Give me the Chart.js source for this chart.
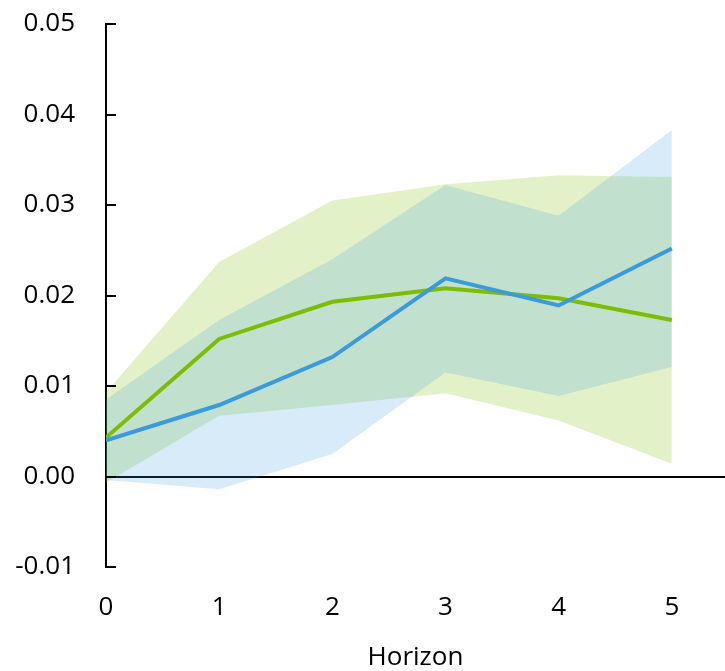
<!DOCTYPE html>
<html>
<head>
<meta charset="utf-8">
<style>
  html, body { margin: 0; padding: 0; background: #ffffff; }
  #wrap { width: 725px; height: 671px; }
</style>
<script src="https://cdn.jsdelivr.net/npm/chart.js@4/dist/chart.umd.min.js"></script>
</head>
<body>
<div id="wrap"><canvas id="irf" width="725" height="671"></canvas></div>
<script>
// Forecast horizons
const horizon = [0, 1, 2, 3, 4, 5];

// Green response: point estimate and confidence band
const greenMid   = [0.0043, 0.0152, 0.0193, 0.0208, 0.0197, 0.0173];
const greenUpper = [0.0093, 0.0237, 0.0305, 0.0323, 0.0333, 0.0331];
const greenLower = [-0.0007, 0.0067, 0.0079, 0.0092, 0.0062, 0.0014];

// Blue response: point estimate and confidence band
const blueMid   = [0.0040, 0.0079, 0.0132, 0.0219, 0.0189, 0.0252];
const blueUpper = [0.0085, 0.0173, 0.0240, 0.0322, 0.0288, 0.0383];
const blueLower = [-0.0004, -0.0014, 0.0025, 0.0115, 0.0089, 0.0121];

// Y axis tick values
const yTicks = [-0.01, 0.00, 0.01, 0.02, 0.03, 0.04, 0.05];

const GREEN = 'rgb(125, 189, 0)';
const BLUE = 'rgb(58, 155, 220)';
const GREEN_BAND = 'rgba(125, 189, 0, 0.21)';
const BLUE_BAND = 'rgba(58, 155, 220, 0.20)';

const pts = arr => horizon.map((h, i) => ({ x: h, y: arr[i] }));

const FONT = { family: "'Open Sans', sans-serif", size: 26 };

// Short tick marks pointing into the plot from the vertical axis
const innerTicks = {
  id: 'innerTicks',
  afterDatasetsDraw(chart) {
    const y = chart.scales.y;
    const ctx = chart.ctx;
    const x0 = chart.chartArea.left;
    ctx.save();
    ctx.strokeStyle = '#000';
    ctx.lineWidth = 2;
    y.ticks.forEach(t => {
      const py = Math.round(y.getPixelForValue(t.value));
      ctx.beginPath();
      ctx.moveTo(x0, py);
      ctx.lineTo(x0 + 10, py);
      ctx.stroke();
    });
    ctx.restore();
  }
};

new Chart(document.getElementById('irf'), {
  type: 'line',
  data: {
    datasets: [
      { label: 'blue', data: pts(blueMid), borderColor: BLUE, borderWidth: 4, pointRadius: 0, fill: false, order: 0 },
      { label: 'green', data: pts(greenMid), borderColor: GREEN, borderWidth: 4, pointRadius: 0, fill: false, order: 1 },
      { label: 'blue lower', data: pts(blueLower), borderWidth: 0, borderColor: 'transparent', pointRadius: 0, fill: false, order: 2 },
      { label: 'blue upper', data: pts(blueUpper), borderWidth: 0, borderColor: 'transparent', pointRadius: 0, backgroundColor: BLUE_BAND, fill: '-1', order: 2 },
      { label: 'green lower', data: pts(greenLower), borderWidth: 0, borderColor: 'transparent', pointRadius: 0, fill: false, order: 3 },
      { label: 'green upper', data: pts(greenUpper), borderWidth: 0, borderColor: 'transparent', pointRadius: 0, backgroundColor: GREEN_BAND, fill: '-1', order: 3 }
    ]
  },
  options: {
    responsive: false,
    animation: false,
    layout: { padding: { top: 24, right: 0, bottom: 0, left: 0 } },
    plugins: { legend: { display: false }, tooltip: { enabled: false } },
    elements: { line: { tension: 0 } },
    scales: {
      x: {
        type: 'linear',
        min: 0,
        max: 5.47,
        border: { display: false },
        grid: { display: false, drawTicks: false },
        ticks: {
          stepSize: 1,
          includeBounds: false,
          padding: 25,
          color: '#000',
          font: FONT,
          callback: v => (Number.isInteger(v) && v <= 5) ? String(v) : ''
        },
        title: {
          display: true,
          text: 'Horizon',
          color: '#000',
          font: { family: FONT.family, size: 26, lineHeight: 1.0 },
          padding: 0
        },
        afterFit(scale) { scale.height = 104; }
      },
      y: {
        type: 'linear',
        min: yTicks[0],
        max: yTicks[yTicks.length - 1],
        border: { display: true, color: '#000', width: 2 },
        grid: {
          drawTicks: true,
          tickLength: 31,
          tickColor: 'rgba(0,0,0,0)',
          lineWidth: 2,
          color: ctx => (ctx.tick && Math.abs(ctx.tick.value) < 1e-9) ? '#000' : 'rgba(0,0,0,0)'
        },
        ticks: {
          stepSize: 0.01,
          padding: 0,
          color: '#000',
          font: FONT,
          callback: v => v.toFixed(2)
        },
        afterFit(scale) { scale.width = 106; }
      }
    }
  },
  plugins: [innerTicks]
});
</script>
</body>
</html>
